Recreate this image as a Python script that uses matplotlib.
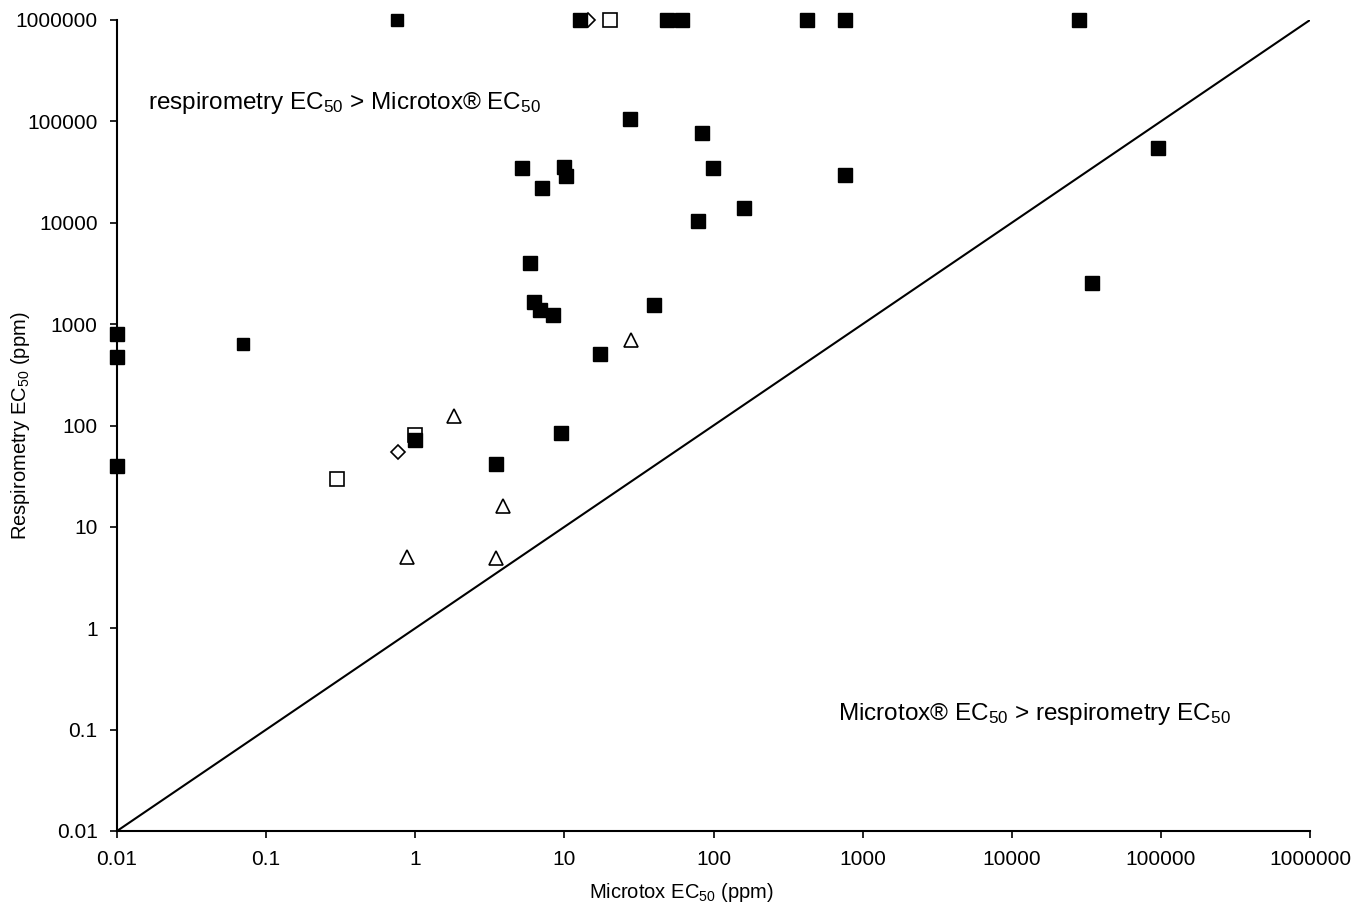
import numpy as np
import matplotlib.pyplot as plt

plt.rcParams['font.family'] = ['Liberation Sans', 'DejaVu Sans']
plt.rcParams['mathtext.fontset'] = 'custom'
plt.rcParams['mathtext.rm'] = 'Liberation Sans'
plt.rcParams['mathtext.it'] = 'Liberation Sans:italic'
plt.rcParams['mathtext.default'] = 'rm'

# filled squares (large)
fsq_x = [12.7, 48.9, 61.5, 425, 764, 28300, 27.6, 84, 5.2, 9.95, 10.3, 7.1, 99, 764,
         78.9, 160, 96000, 34600, 5.9, 6.3, 6.9, 8.4, 40, 17.3, 0.01, 0.01, 0.01,
         1.0, 3.48, 9.5]
fsq_y = [1e6, 1e6, 1e6, 1e6, 1e6, 1e6, 105000, 77000, 34700, 35500, 28800, 22000, 34700, 29600,
         10400, 14000, 54700, 2550, 4020, 1660, 1380, 1230, 1550, 508, 800, 475, 40,
         72, 41.8, 84.5]

# filled squares (small)
ssq_x = [0.75, 0.07]
ssq_y = [1e6, 640]

# open squares
osq_x = [20.3, 1.0, 0.30]
osq_y = [1e6, 81, 29.7]

# open diamonds
dia_x = [14.5, 0.77]
dia_y = [1e6, 55]

# open triangles
tri_x = [28, 1.82, 3.9, 0.88, 3.48]
tri_y = [698, 124, 16.1, 5.06, 4.94]

ticks = [0.01, 0.1, 1, 10, 100, 1000, 10000, 100000, 1000000]
tick_labels = ['0.01', '0.1', '1', '10', '100', '1000', '10000', '100000', '1000000']

fig = plt.figure(figsize=(13.54, 9.10), dpi=100)
ax = fig.add_axes([117/1354, 1-831/910, (1310-117)/1354, (831-20)/910])

ax.plot([0.01, 1e6], [0.01, 1e6], color='black', lw=1.5, zorder=1)

ax.plot(osq_x, osq_y, 's', ms=9.5, mfc='white', mec='black', mew=1.2, ls='none', clip_on=False, zorder=2)
ax.plot(dia_x, dia_y, 'D', ms=7, mfc='white', mec='black', mew=1.2, ls='none', clip_on=False, zorder=2)
ax.plot(tri_x, tri_y, '^', ms=10, mfc='white', mec='black', mew=1.2, ls='none', clip_on=False, zorder=2)
ax.plot(fsq_x, fsq_y, 's', ms=10, color='black', ls='none', clip_on=False, zorder=3)
ax.plot(ssq_x, ssq_y, 's', ms=8.5, color='black', ls='none', clip_on=False, zorder=3)

ax.set_xscale('log')
ax.set_yscale('log')
ax.set_xlim(0.01, 1e6)
ax.set_ylim(0.01, 1e6)
ax.set_xticks(ticks)
ax.set_xticklabels(tick_labels)
ax.set_yticks(ticks)
ax.set_yticklabels(tick_labels)
ax.minorticks_off()
ax.tick_params(labelsize=15, length=5, width=1.2, direction='out')
ax.tick_params(axis='x', pad=9)
ax.tick_params(axis='y', pad=9)

for s in ['top', 'right']:
    ax.spines[s].set_visible(False)
for s in ['left', 'bottom']:
    ax.spines[s].set_linewidth(1.5)

ax.set_xlabel('Microtox EC$_{50}$ (ppm)', fontsize=14.5)
ax.set_ylabel('Respirometry EC$_{50}$ (ppm)', fontsize=14.5)
ax.xaxis.set_label_coords(0.4728, -0.062)
ax.yaxis.set_label_coords(-0.0813, 0.5)
ax.yaxis.label.set_va('center')

ax.text(0.0161, 1.52e5, 'respirometry EC$_{50}$ > Microtox® EC$_{50}$', fontsize=17.5, va='center', ha='left')
ax.text(686, 0.143, 'Microtox® EC$_{50}$ > respirometry EC$_{50}$', fontsize=17.5, va='center', ha='left')

fig.savefig('out.png', dpi=100)
